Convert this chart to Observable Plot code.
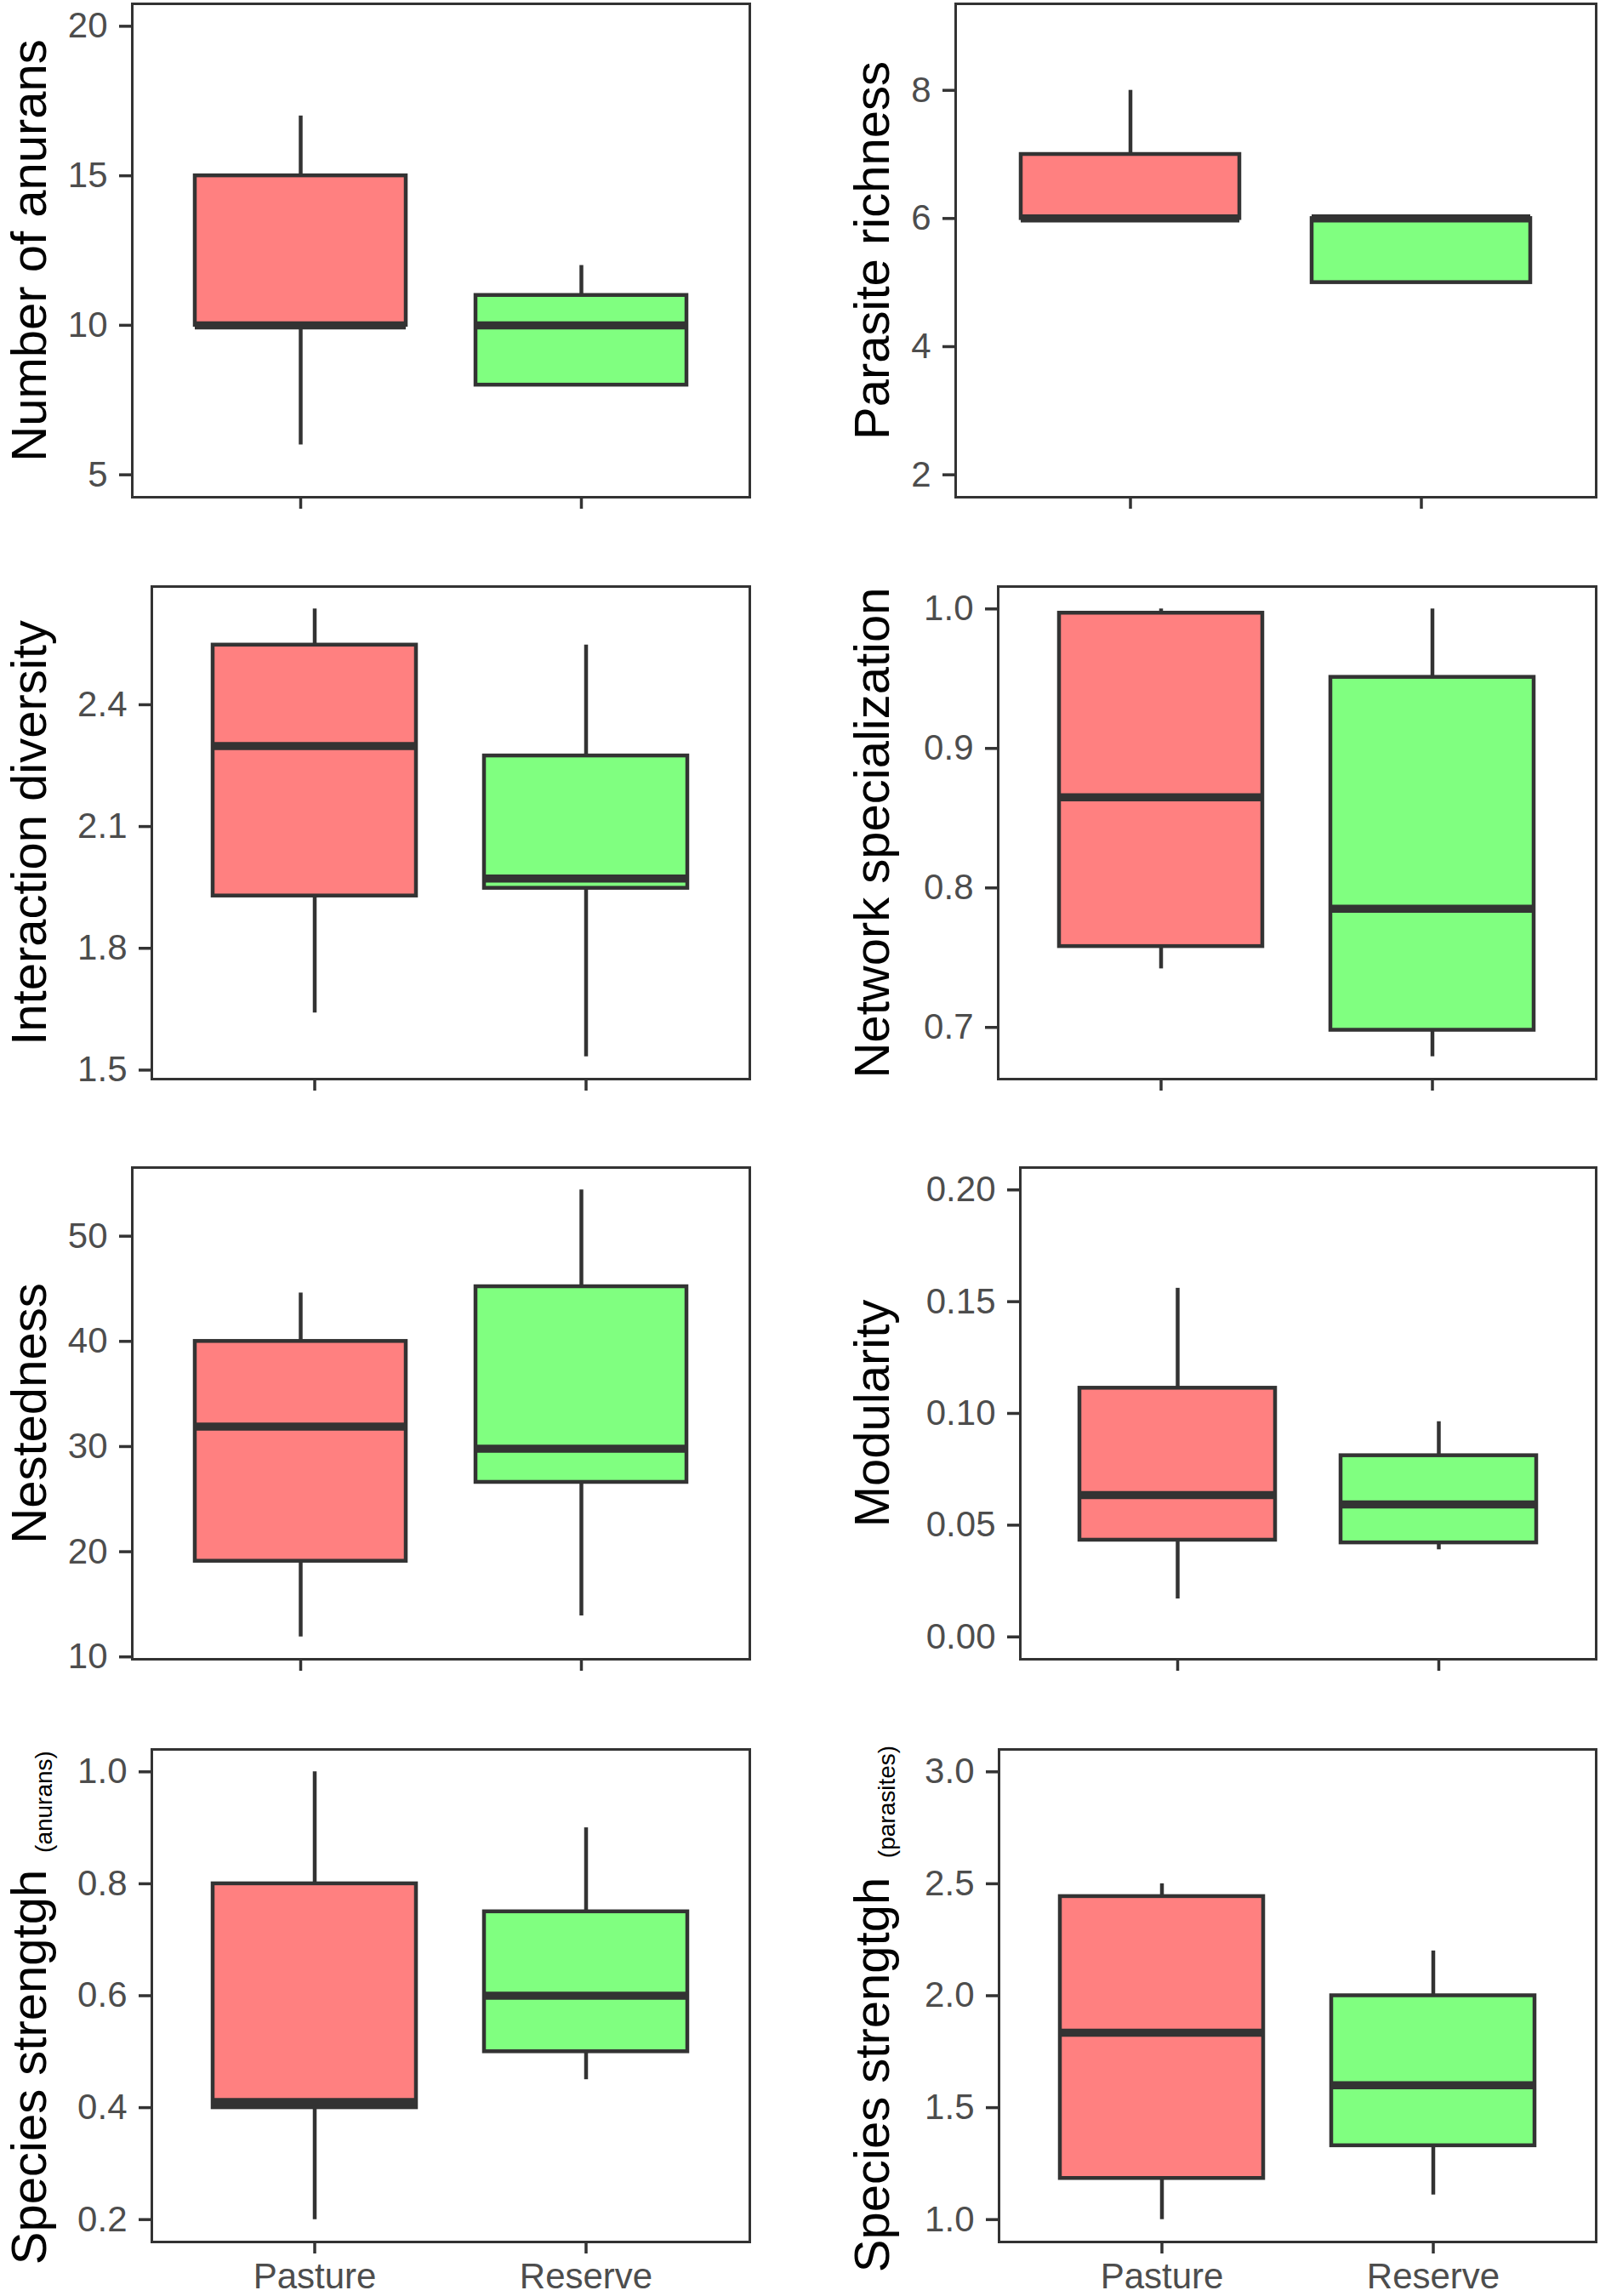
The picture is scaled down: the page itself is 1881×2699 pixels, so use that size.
<!DOCTYPE html>
<html><head><meta charset="utf-8">
<script src="https://cdn.jsdelivr.net/npm/d3@7"></script>
<script src="https://cdn.jsdelivr.net/npm/@observablehq/plot@0.6"></script>
<style>
html,body{margin:0;padding:0;background:#fff;}
#wrap{position:relative;width:1881px;height:2699px;overflow:hidden;background:#fff;}
#wrap > div{position:absolute;}
#wrap svg{max-width:none;overflow:visible;background:transparent;}
</style></head><body><div id="wrap"></div>
<script>
// ---- data ----
const groups = ["Pasture", "Reserve"];
const titles = ["Number of anurans", "Parasite richness", "Interaction diversity", "Network specialization",
                "Nestedness", "Modularity", "Species strengtgh", "Species strengtgh"];
const subscripts = [null, null, null, null, null, null, "(anurans)", "(parasites)"];
// each entry: [Pasture, Reserve]
const lowerWhisker = [[6, 8], [6, 5], [1.641, 1.533], [0.742, 0.679], [11.9, 13.9], [0.017, 0.039], [0.2, 0.45], [1.0, 1.11]];
const lowerHinge   = [[10, 8], [6, 5], [1.929, 1.948], [0.758, 0.698], [19.1, 26.6], [0.0433, 0.0421], [0.4, 0.5], [1.184, 1.33]];
const medians      = [[10, 10], [6, 6], [2.298, 1.972], [0.865, 0.785], [31.9, 29.8], [0.0635, 0.0593], [0.41, 0.6], [1.835, 1.6]];
const upperHinge   = [[15, 11], [7, 6], [2.547, 2.274], [0.997, 0.951], [40, 45.2], [0.1113, 0.0811], [0.8, 0.75], [2.443, 2.0]];
const upperWhisker = [[17, 12], [8, 6], [2.636, 2.547], [1.0, 1.0], [44.6, 54.4], [0.156, 0.0963], [1.0, 0.9], [2.5, 2.2]];
const yTicks = [[5, 10, 15, 20], [2, 4, 6, 8], [1.5, 1.8, 2.1, 2.4], [0.7, 0.8, 0.9, 1.0],
                [10, 20, 30, 40, 50], [0, 0.05, 0.1, 0.15, 0.2], [0.2, 0.4, 0.6, 0.8, 1.0], [1.0, 1.5, 2.0, 2.5, 3.0]];
const yTickFormats = ["d", "d", ".1f", ".1f", "d", ".2f", ".1f", ".1f"];
const yLimits = [[5, 20], [2, 9], null, null, null, [0, 0.2], null, [1, 3]];

// ---- layout (page pixels) ----
const panels = [
  {x0: 155, x1: 881, y0: 4, y1: 584},
  {x0: 1123, x1: 1876, y0: 4, y1: 584},
  {x0: 178, x1: 881, y0: 689, y1: 1268},
  {x0: 1173, x1: 1876, y0: 689, y1: 1268},
  {x0: 155, x1: 881, y0: 1372, y1: 1950},
  {x0: 1199, x1: 1876, y0: 1372, y1: 1950},
  {x0: 178, x1: 881, y0: 2056, y1: 2635},
  {x0: 1174, x1: 1876, y0: 2056, y1: 2635}
];
const FONT = "'Liberation Sans', Arial, Helvetica, sans-serif";
const DARK = "#333333";
const wrap = document.getElementById("wrap");

panels.forEach((p, i) => {
  const right = i % 2 === 1;
  const bottomRow = i >= 6;
  const svgLeft = right ? 940 : 0;
  const mL = p.x0 - svgLeft;
  const mR = 4;
  const mT = i < 2 ? 4 : 6;
  const mB = bottomRow ? 64 : 30;
  const width = p.x1 - p.x0 + mL + mR;
  const height = p.y1 - p.y0 + mT + mB;

  const rows = groups.map((g, j) => ({
    group: g,
    lo: lowerWhisker[i][j], q1: lowerHinge[i][j], med: medians[i][j],
    q3: upperHinge[i][j], hi: upperWhisker[i][j]
  }));
  const lim = yLimits[i] ?? [d3.min(lowerWhisker[i]), d3.max(upperWhisker[i])];
  const pad = 0.05 * (lim[1] - lim[0]);
  const domain = [lim[0] - pad, lim[1] + pad];

  const baseX = right ? 1044 : 53;
  const titleMarks = [];
  if (subscripts[i]) {
    titleMarks.push(Plot.text([titles[i]], {text: d => d, frameAnchor: "left", dx: baseX - p.x0, dy: right ? 93 : 84,
      rotate: -90, textAnchor: "middle", lineAnchor: "bottom", fontSize: 58, fill: "#000"}));
    titleMarks.push(Plot.text([subscripts[i]], {text: d => d, frameAnchor: "left", dx: baseX + 7 - p.x0, dy: -228,
      rotate: -90, textAnchor: "middle", lineAnchor: "bottom", fontSize: 28, fill: "#000"}));
  } else {
    titleMarks.push(Plot.text([titles[i]], {text: d => d, frameAnchor: "left", dx: baseX - p.x0, dy: 0,
      rotate: -90, textAnchor: "middle", lineAnchor: "bottom", fontSize: 58, fill: "#000"}));
  }

  const chart = Plot.plot({
    width, height,
    marginLeft: mL, marginRight: mR, marginTop: mT, marginBottom: mB,
    style: {fontFamily: FONT, background: "transparent", overflow: "visible"},
    x: {type: "band", domain: groups, paddingInner: 0.25, paddingOuter: 0.225, align: 0.5},
    y: {domain, nice: false},
    color: {domain: groups, range: ["#ff8080", "#80ff80"]},
    marks: [
      Plot.ruleX(rows, {x: "group", y1: "q3", y2: "hi", stroke: DARK, strokeWidth: 4.5}),
      Plot.ruleX(rows, {x: "group", y1: "lo", y2: "q1", stroke: DARK, strokeWidth: 4.5}),
      Plot.barY(rows, {x: "group", y1: "q1", y2: "q3", fill: "group", stroke: DARK, strokeWidth: 4.5}),
      Plot.tickY(rows, {x: "group", y: "med", stroke: DARK, strokeWidth: 9.5}),
      Plot.frame({stroke: DARK, strokeWidth: 3}),
      Plot.axisY({ticks: yTicks[i], tickFormat: d3.format(yTickFormats[i]), tickSize: 15, tickPadding: 14,
        fontSize: 42, stroke: DARK, strokeWidth: 3.5, fill: "#4d4d4d", label: null}),
      Plot.axisX({tickSize: 14, tickPadding: 11, fontSize: 42, stroke: DARK, strokeWidth: 3.5, fill: "#4d4d4d",
        label: null, tickFormat: bottomRow ? (d => d) : (() => "")}),
      ...titleMarks
    ]
  });
  const holder = document.createElement("div");
  holder.style.left = svgLeft + "px";
  holder.style.top = (p.y0 - mT) + "px";
  holder.appendChild(chart);
  wrap.appendChild(holder);
});
</script>
</body></html>
